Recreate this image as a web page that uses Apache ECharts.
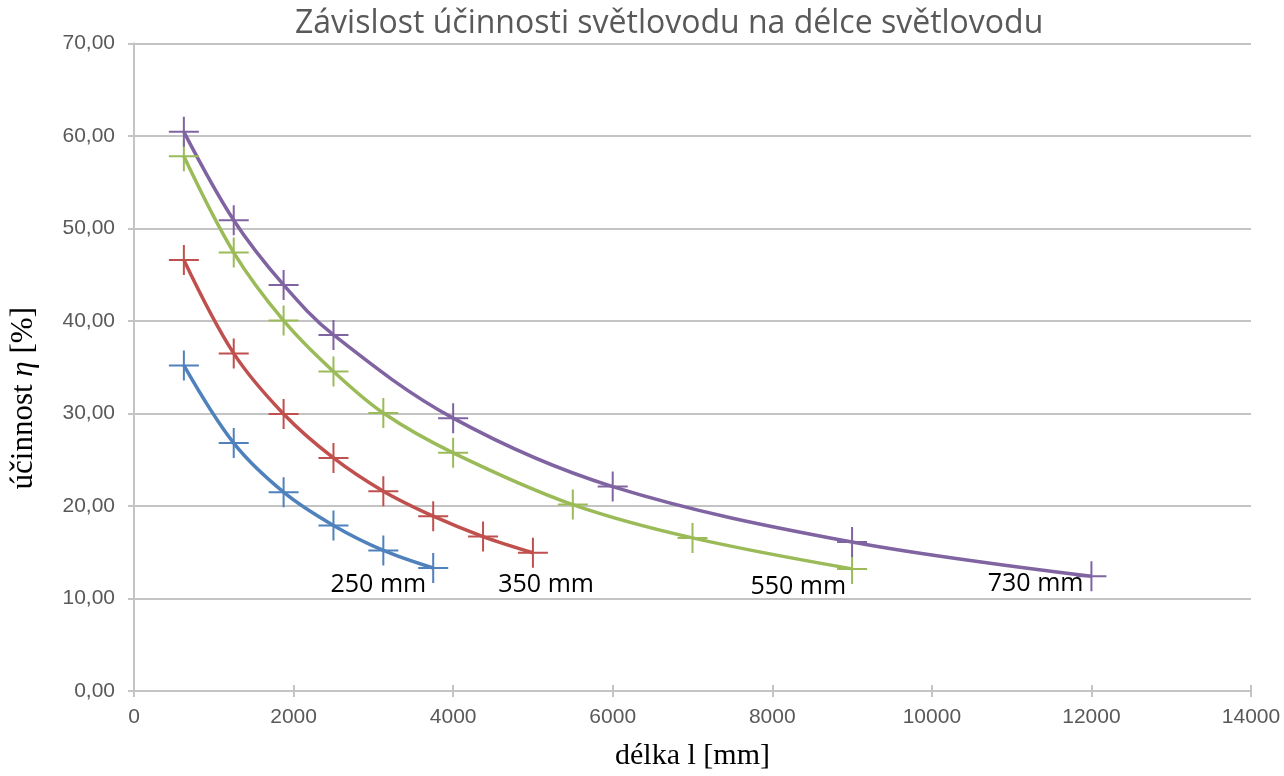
<!DOCTYPE html>
<html>
<head>
<meta charset="utf-8">
<script src="https://cdn.jsdelivr.net/npm/echarts@6/dist/echarts.min.js"></script>
<style>
  html, body { margin: 0; padding: 0; background: #fff; }
  #chart { width: 1284px; height: 776px; }
</style>
</head>
<body>
<div id="chart"></div>
<script>
// délka l [mm] a účinnost η [%] pro jednotlivé světlovody
const len250 = [625, 1250, 1875, 2500, 3125, 3750];
const eta250 = [35.2, 26.8, 21.5, 17.9, 15.2, 13.3];

const len350 = [625, 1250, 1875, 2500, 3125, 3750, 4375, 5000];
const eta350 = [46.6, 36.5, 29.95, 25.2, 21.6, 18.9, 16.7, 14.95];

const len550 = [625, 1250, 1875, 2500, 3125, 4000, 5500, 7000, 9000];
const eta550 = [57.8, 47.4, 40.05, 34.55, 30.05, 25.75, 20.15, 16.55, 13.2];

const len730 = [625, 1250, 1875, 2500, 4000, 6000, 9000, 12000];
const eta730 = [60.45, 50.9, 43.9, 38.5, 29.5, 22.1, 16.1, 12.4];

const seriesNames = ['250 mm', '350 mm', '550 mm', '730 mm'];
const seriesColors = ['#4F81BD', '#C0504D', '#9BBB59', '#8064A2'];
// posun popisku u posledního bodu (vůči rámečku značky)
const labelShift = [[8, 32], [76, 47], [9, 33], [7, 23]];

const plusSymbol = 'path://M0,14H30V16H0Z M14,0H16V30H14Z';
const gridColor = '#C4C4C4';
const textGray = '#595959';

function pairs(xs, ys) {
  return xs.map((x, i) => [x, ys[i]]);
}

function makeSeries(idx, xs, ys) {
  const data = pairs(xs, ys);
  const last = data.length - 1;
  return {
    name: seriesNames[idx],
    type: 'line',
    smooth: 0.35,
    symbol: plusSymbol,
    symbolSize: 30,
    showAllSymbol: true,
    lineStyle: { color: seriesColors[idx], width: 3.5 },
    itemStyle: { color: seriesColors[idx] },
    data: data.map((p, i) => {
      if (i !== last) return p;
      return {
        value: p,
        label: {
          show: true,
          formatter: seriesNames[idx],
          position: labelShift[idx],
          align: 'right',
          verticalAlign: 'middle',
          color: '#000',
          fontSize: 25,
          fontFamily: 'Open Sans'
        }
      };
    }),
    animation: false
  };
}

const chart = echarts.init(document.getElementById('chart'));

const option = {
  backgroundColor: '#fff',
  title: {
    text: 'Závislost účinnosti světlovodu na délce světlovodu',
    left: 290,
    top: 3,
    textStyle: {
      color: textGray,
      fontFamily: 'Open Sans',
      fontWeight: 'normal',
      fontSize: 32
    }
  },
  grid: { left: 131.5, right: 33, top: 43.5, bottom: 84.5 },
  xAxis: [
    {
      type: 'value',
      min: 0,
      max: 14000,
      interval: 2000,
      name: 'délka l [mm]',
      nameLocation: 'middle',
      nameGap: 50,
      nameTextStyle: { color: '#000', fontFamily: 'Liberation Serif', fontSize: 30 },
      axisLine: { show: true, lineStyle: { color: gridColor, width: 2 } },
      axisTick: { show: true, inside: false, length: 6, lineStyle: { color: gridColor, width: 2 } },
      axisLabel: {
        color: textGray,
        fontFamily: 'Liberation Sans',
        fontSize: 21,
        margin: 16,
        formatter: v => String(v)
      },
      splitLine: { show: false }
    },
    {
      type: 'value',
      min: 0,
      max: 14000,
      interval: 2000,
      position: 'bottom',
      axisLine: { show: false },
      axisTick: { show: true, inside: true, length: 6, lineStyle: { color: gridColor, width: 2 } },
      axisLabel: { show: false },
      splitLine: { show: false }
    }
  ],
  yAxis: {
    type: 'value',
    min: 0,
    max: 70,
    interval: 10,
    name: 'účinnost {i|η} [%]',
    nameLocation: 'middle',
    nameGap: 95,
    nameRotate: 90,
    nameTextStyle: {
      color: '#000',
      fontFamily: 'Liberation Serif',
      fontSize: 31,
      padding: [0, 62, 0, 0],
      rich: {
        i: { fontStyle: 'italic', fontFamily: 'Liberation Serif', fontSize: 31, color: '#000' }
      }
    },
    axisLine: { show: true, lineStyle: { color: gridColor, width: 2 } },
    axisTick: { show: true, inside: false, length: 6, lineStyle: { color: gridColor, width: 2 } },
    axisLabel: {
      color: textGray,
      fontFamily: 'Liberation Sans',
      fontSize: 21,
      margin: 19,
      formatter: v => v.toFixed(2).replace('.', ',')
    },
    splitLine: { show: true, lineStyle: { color: gridColor, width: 2 } }
  },
  series: [
    makeSeries(0, len250, eta250),
    makeSeries(1, len350, eta350),
    makeSeries(2, len550, eta550),
    makeSeries(3, len730, eta730)
  ]
};

chart.setOption(option);
</script>
</body>
</html>
